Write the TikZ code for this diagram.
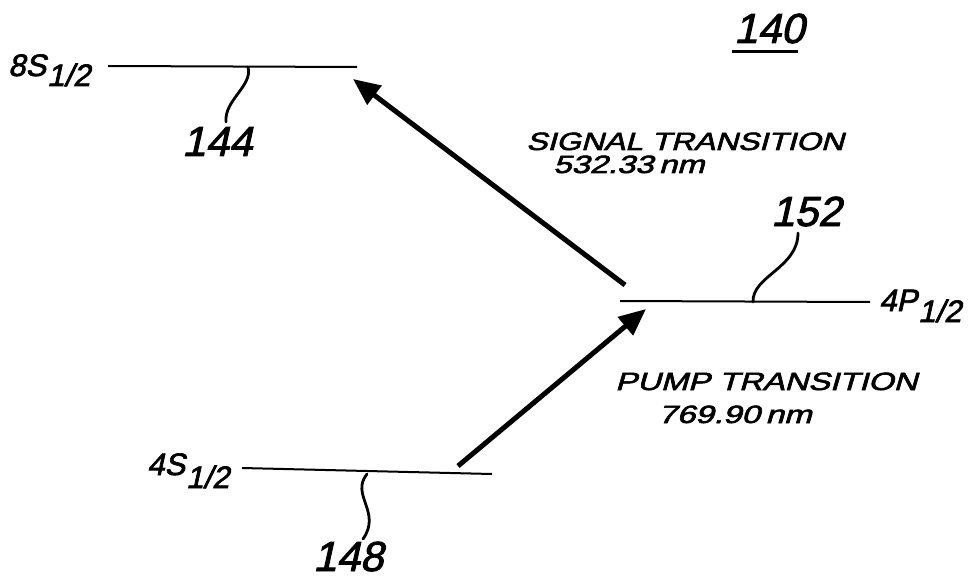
\documentclass[tikz,border=0pt]{standalone}
\usepackage{fontspec}
\setmainfont{Liberation Sans}
\newfontfamily\lett{Liberation Sans}[FakeBold=2.2,FakeSlant=0.22]
\usetikzlibrary{arrows.meta}
\begin{document}
\begin{tikzpicture}[x=1pt,y=-1pt,
  levelline/.style={line width=2pt},
  leader/.style={line width=2.8pt,line cap=round},
  trans/.style={line width=5pt,-{Triangle[length=27pt,width=23pt]}},
  lbl/.style={inner sep=0pt,anchor=base west,font=\fontsize{31}{33}\selectfont\lett},
  refnum/.style={inner sep=0pt,anchor=base west,font=\fontsize{42}{44}\selectfont\lett},
  txt/.style={inner sep=0pt,anchor=base west,font=\fontsize{25}{27}\selectfont\lett},
]
\useasboundingbox (0,0) rectangle (979,580);

% energy levels
\coordinate (s8L) at (108,66);
\coordinate (s8R) at (357,67);
\coordinate (p4L) at (620,301);
\coordinate (p4R) at (870,302);
\coordinate (s4L) at (242,468);
\coordinate (s4R) at (492,474);
\draw[levelline] (s8L) -- (s8R);
\draw[levelline] (p4L) -- (p4R);
\draw[levelline] (s4L) -- (s4R);

% level labels
\node[lbl] (l8s) at (8,76) {8S\kern1pt\raisebox{-10pt}{1/2}};
\node[lbl] (l4s) at (147,475) {4S\kern1pt\raisebox{-13pt}{1/2}};
\node[lbl] (l4p) at (879,311) {4P\kern1pt\raisebox{-11pt}{1/2}};

% transitions
\coordinate (sigT) at (625,285);
\coordinate (sigH) at (353,79);
\coordinate (pumT) at (458,466);
\coordinate (pumH) at (646,309);
\draw[trans] (sigT) -- (sigH);
\draw[trans] (pumT) -- (pumH);

\node[txt] (sigtxt) at (526,150) {\scalebox{1.27}[1]{SIGNAL TRANSITION}};
\node[txt] (sigwl) at (553,173) {\scalebox{1.31}[1]{532.33\,nm}};
\node[txt] (pumtxt) at (615,390) {\scalebox{1.31}[1]{PUMP TRANSITION}};
\node[txt] (pumwl) at (658,423) {\scalebox{1.33}[1]{769.90\,nm}};

% reference numerals with leaders
\node[refnum] (r140) at (734,43) {140};
\coordinate (u1) at (732,52);
\coordinate (u2) at (798,52);
\draw[line width=3pt] (u1) -- (u2);

\node[refnum] (r144) at (182,156) {144};
\coordinate (a144) at (248,67);
\coordinate (b144) at (226,122);
\draw[leader] (a144) .. controls (253,86) and (224,100) .. (b144);

\node[refnum] (r152) at (771,226) {152};
\coordinate (a152) at (753,302);
\coordinate (b152) at (798,233);
\draw[leader] (a152) .. controls (752,276) and (798,268) .. (b152);

\node[refnum] (r148) at (313,571) {148};
\coordinate (a148) at (367,474);
\coordinate (b148) at (363,539);
\draw[leader] (a148) .. controls (350,495) and (382,512) .. (b148);
\end{tikzpicture}
\end{document}
